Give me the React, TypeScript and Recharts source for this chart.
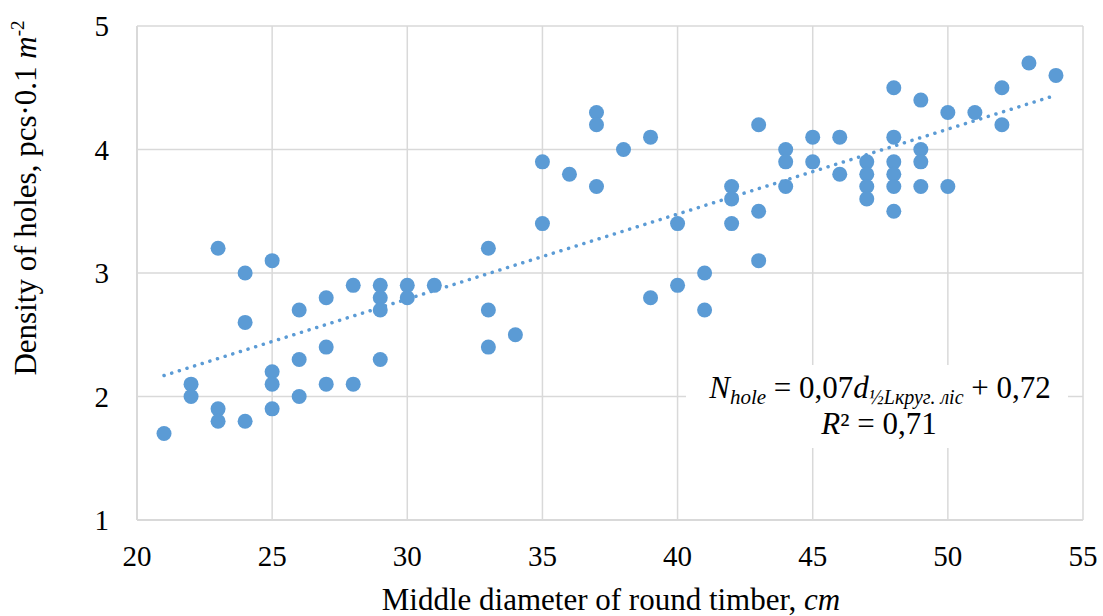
import React from 'react';
import {
  ScatterChart,
  Scatter,
  XAxis,
  YAxis,
  CartesianGrid,
} from 'recharts';

// diameters (cm) and the densities measured at each diameter
const diameters = [21, 22, 23, 24, 25, 26, 27, 28, 29, 30, 31, 33, 34, 35, 36, 37, 38, 39, 40, 41, 42, 43, 44, 45, 46, 47, 48, 49, 50, 51, 52, 53, 54];
const densityByDiameter = [
  [1.7],
  [2.1, 2.0],
  [3.2, 1.9, 1.8],
  [3.0, 2.6, 1.8],
  [3.1, 2.2, 2.1, 1.9],
  [2.7, 2.3, 2.0],
  [2.8, 2.4, 2.1],
  [2.9, 2.1],
  [2.9, 2.8, 2.7, 2.3],
  [2.9, 2.8],
  [2.9],
  [3.2, 2.7, 2.4],
  [2.5],
  [3.9, 3.4],
  [3.8],
  [4.3, 4.2, 3.7],
  [4.0],
  [4.1, 2.8],
  [3.4, 2.9],
  [3.0, 2.7],
  [3.7, 3.6, 3.4],
  [4.2, 3.5, 3.1],
  [4.0, 3.9, 3.7],
  [4.1, 3.9],
  [4.1, 3.8],
  [3.9, 3.8, 3.7, 3.6],
  [4.5, 4.1, 3.9, 3.8, 3.7, 3.5],
  [4.4, 4.0, 3.9, 3.7],
  [4.3, 3.7],
  [4.3],
  [4.5, 4.2],
  [4.7],
  [4.6],
];

// linear trendline end points as drawn
const trendX = [21, 54];
const trendY = [2.17, 4.44];

const xTicks = [20, 25, 30, 35, 40, 45, 50, 55];
const yTicks = [1, 2, 3, 4, 5];

const points = diameters.flatMap((d, i) => densityByDiameter[i].map((v) => ({ x: d, y: v })));
const trend = trendX.map((x, i) => ({ x, y: trendY[i] }));

const FONT = '"Liberation Serif", "Times New Roman", serif';
const BLUE = '#5b9bd5';
const GRID = '#d9d9d9';

const Dot = (p: any) => <circle cx={p.cx} cy={p.cy} r={7.5} fill={BLUE} />;

export default function App() {
  return (
    <div style={{ position: 'absolute', left: 0, top: 0, background: '#fff' }}>
      <ScatterChart width={1103} height={616} margin={{ top: 26, right: 20, left: 0, bottom: 0 }}>
        <CartesianGrid stroke={GRID} strokeWidth={1.5} />
        <XAxis
          type="number"
          dataKey="x"
          domain={[20, 55]}
          ticks={xTicks}
          height={96}
          axisLine={{ stroke: GRID, strokeWidth: 2 }}
          tickLine={false}
          tickSize={0}
          tickMargin={25}
          tick={{ fill: '#000', fontSize: 29, fontFamily: FONT }}
          allowDataOverflow
        />
        <YAxis
          type="number"
          dataKey="y"
          domain={[1, 5]}
          ticks={yTicks}
          width={137}
          axisLine={{ stroke: GRID, strokeWidth: 2 }}
          tickLine={false}
          tickSize={0}
          tickMargin={28}
          tick={{ fill: '#000', fontSize: 29, fontFamily: FONT }}
          allowDataOverflow
        />
        <rect x={686} y={365} width={382} height={83} fill="#fff" />
        <Scatter
          data={trend}
          isAnimationActive={false}
          line={{ stroke: BLUE, strokeWidth: 3.5, strokeDasharray: '0.1 7.9', strokeLinecap: 'round' }}
          shape={() => null}
        />
        <Scatter data={points} isAnimationActive={false} shape={Dot} />
        <g fontFamily={FONT} fill="#000">
          <text x={880} y={398} textAnchor="middle" fontSize={31}>
            <tspan fontStyle="italic">N</tspan>
            <tspan fontStyle="italic" fontSize={21} dy={6}>hole</tspan>
            <tspan dy={-6}> = 0,07</tspan>
            <tspan fontStyle="italic">d</tspan>
            <tspan fontStyle="italic" fontSize={20} dy={6}>½Lкруг. ліс</tspan>
            <tspan dy={-6}> + 0,72</tspan>
          </text>
          <text x={879} y={434} textAnchor="middle" fontSize={31}>
            <tspan fontStyle="italic">R</tspan>
            <tspan>² = 0,71</tspan>
          </text>
          <text x={611} y={610} textAnchor="middle" fontSize={31}>
            Middle diameter of round timber, <tspan fontStyle="italic">cm</tspan>
          </text>
          <text x={36} y={198} textAnchor="middle" fontSize={31} transform="rotate(-90, 36, 198)">
            Density of holes, pcs·0.1 <tspan fontStyle="italic">m</tspan>
            <tspan fontSize={19} dy={-12}>-2</tspan>
          </text>
        </g>
      </ScatterChart>
    </div>
  );
}
